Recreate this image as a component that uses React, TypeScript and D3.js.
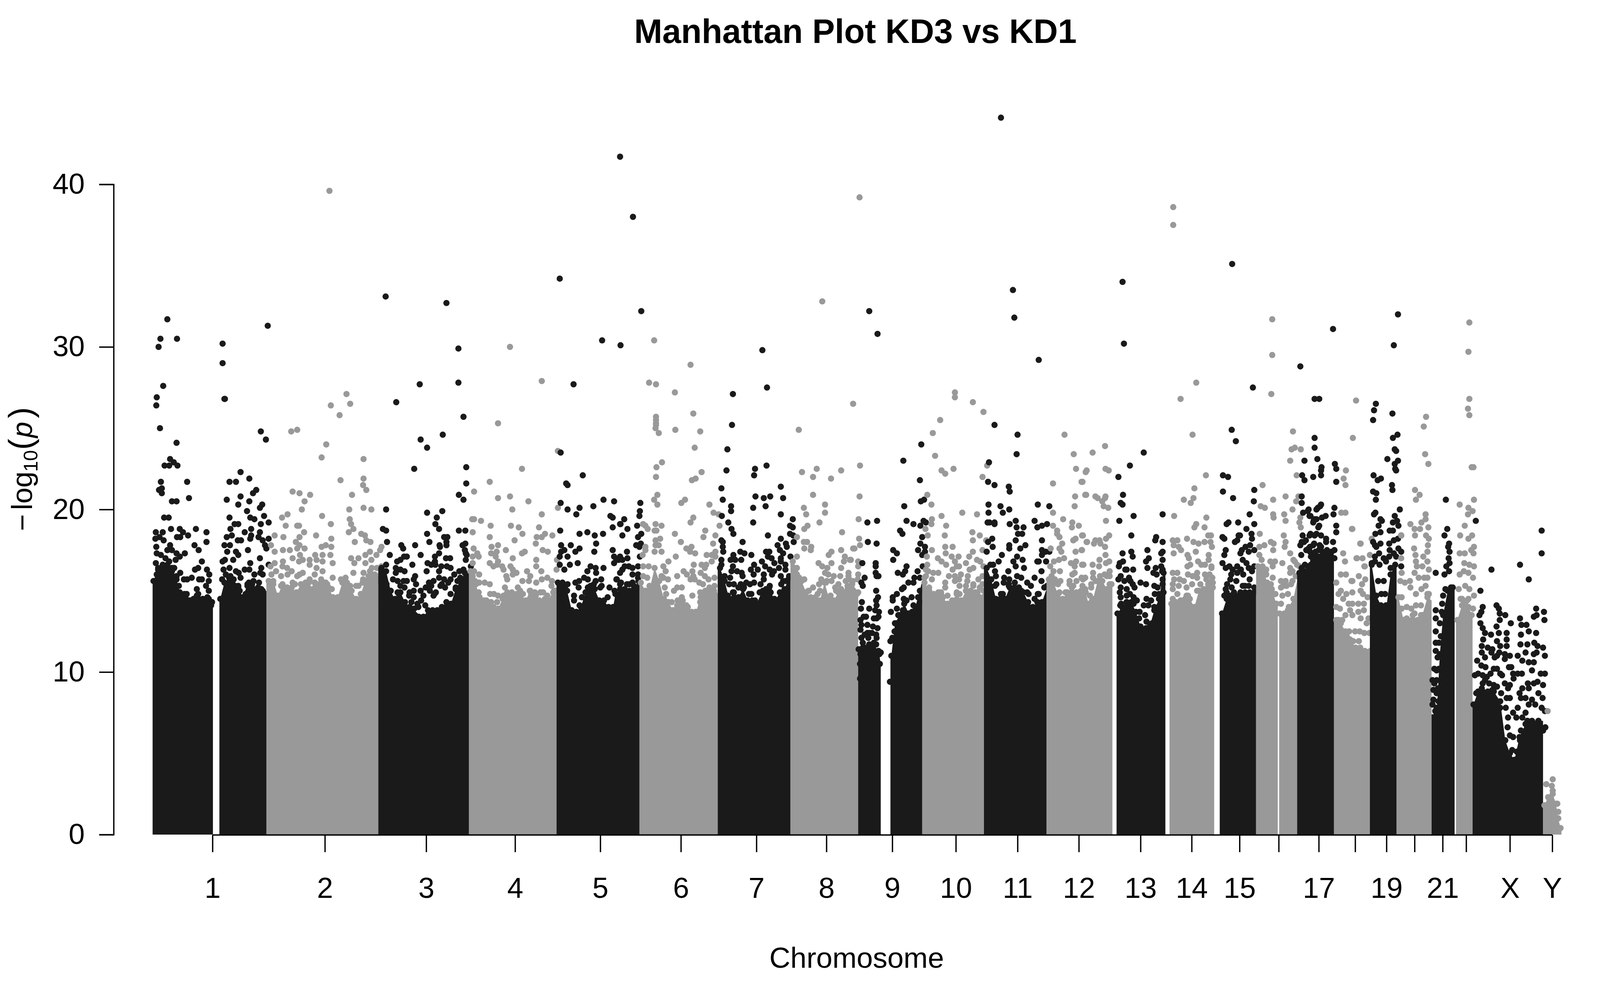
import React, { useEffect, useRef } from 'react';
import * as d3 from 'd3';

type Pair = [number, number];

const width = 5211;
const height = 2517;

// x values are cumulative genome position in Mb, y values are -log10(p)
const tickPositions = [130, 374, 594, 787, 972, 1147, 1311, 1463, 1606, 1744, 1878, 2011, 2145, 2256, 2360, 2445, 2532, 2611, 2679, 2740, 2801, 2852, 2947, 3039];
const tickLabels = ['1', '2', '3', '4', '5', '6', '7', '8', '9', '10', '11', '12', '13', '14', '15', '', '17', '', '19', '', '21', '', 'X', 'Y'];
const yTicks = [0, 10, 20, 30, 40];

// top of the solid body of points, per chromosome arm
const mass1a: Pair[] = [[0, 15.2], [2, 15.2], [12, 16.0], [22, 16.2], [32, 16.2], [42, 16.0], [52, 15.3], [59, 14.5], [69, 14.4], [79, 14.0], [89, 14.1], [99, 14.4], [109, 14.1], [119, 14.2], [129, 13.9], [131, 13.9]];
const mass1b: Pair[] = [[145, 14.1], [147, 14.1], [156, 15.1], [166, 15.4], [176, 15.3], [186, 14.8], [196, 14.2], [206, 15.0], [216, 15.0], [226, 14.7], [236, 14.7], [246, 14.4], [248, 14.4]];
const mass2: Pair[] = [[247, 15.2], [252, 15.2], [262, 15.2], [272, 14.3], [282, 15.0], [292, 14.8], [302, 14.8], [312, 14.5], [322, 15.0], [332, 15.1], [342, 14.7], [352, 15.1], [362, 14.8], [372, 15.1], [382, 14.8], [392, 14.2], [402, 14.2], [412, 15.1], [422, 15.1], [432, 14.6], [442, 14.1], [452, 14.4], [462, 15.2], [472, 15.8], [482, 15.6], [490, 15.7]];
const mass3: Pair[] = [[490, 16.0], [497, 16.0], [507, 15.8], [517, 14.6], [527, 14.0], [538, 14.5], [548, 13.9], [558, 13.6], [568, 13.5], [578, 13.0], [588, 13.0], [598, 13.4], [608, 13.4], [618, 13.4], [628, 13.6], [638, 13.9], [648, 13.8], [658, 14.7], [668, 15.2], [678, 15.7], [687, 15.8]];
const mass4: Pair[] = [[687, 15.8], [690, 15.8], [700, 15.2], [710, 14.2], [720, 14.0], [730, 13.8], [740, 13.6], [750, 13.5], [760, 14.1], [770, 14.5], [780, 14.5], [790, 14.4], [800, 14.4], [810, 14.0], [820, 14.6], [830, 14.5], [840, 14.0], [850, 13.8], [860, 14.0], [870, 14.5], [877, 14.7]];
const mass5: Pair[] = [[877, 15.1], [880, 15.1], [890, 15.1], [900, 14.6], [910, 13.4], [920, 13.3], [930, 13.6], [940, 14.5], [950, 14.6], [960, 14.7], [970, 14.0], [980, 14.0], [990, 13.6], [1000, 13.6], [1005, 14.4], [1015, 14.7], [1025, 14.7], [1035, 14.6], [1045, 14.7], [1055, 15.2], [1057, 15.2]];
const mass6: Pair[] = [[1057, 15.1], [1060, 15.1], [1070, 14.6], [1080, 14.8], [1090, 16.0], [1100, 15.2], [1110, 14.1], [1120, 13.9], [1130, 13.4], [1140, 14.0], [1150, 13.8], [1160, 13.4], [1170, 13.3], [1180, 13.3], [1190, 14.2], [1200, 14.6], [1210, 14.5], [1220, 14.4], [1227, 14.4]];
const mass7: Pair[] = [[1227, 16.0], [1232, 16.0], [1242, 15.2], [1252, 14.1], [1262, 14.5], [1272, 14.2], [1282, 14.7], [1292, 14.0], [1302, 14.0], [1312, 13.8], [1322, 14.5], [1332, 14.5], [1342, 14.5], [1352, 14.0], [1362, 14.5], [1372, 14.7], [1382, 15.4], [1385, 15.4]];
const mass8: Pair[] = [[1385, 16.4], [1390, 16.4], [1399, 16.0], [1409, 15.2], [1419, 14.5], [1429, 14.2], [1439, 14.2], [1449, 14.0], [1459, 15.1], [1469, 14.1], [1479, 14.0], [1489, 14.5], [1499, 14.5], [1509, 14.7], [1519, 14.7], [1529, 14.4], [1532, 14.4]];
const mass9a: Pair[] = [[1532, 11.0], [1533, 11.0], [1545, 11.1], [1556, 11.3], [1567, 11.3], [1578, 10.7], [1581, 10.0]];
const mass9b: Pair[] = [[1602, 10.6], [1604, 10.6], [1612, 12.6], [1622, 13.1], [1632, 13.8], [1642, 13.2], [1652, 13.2], [1662, 14.2], [1671, 15.2]];
const mass10: Pair[] = [[1671, 15.1], [1676, 15.1], [1686, 14.6], [1696, 14.4], [1706, 14.5], [1716, 14.2], [1726, 13.8], [1736, 14.0], [1746, 14.4], [1756, 14.0], [1766, 14.6], [1776, 14.6], [1786, 14.5], [1796, 14.2], [1805, 14.5]];
const mass11: Pair[] = [[1805, 16.0], [1811, 16.0], [1821, 15.3], [1831, 14.1], [1841, 14.1], [1851, 14.1], [1861, 14.8], [1871, 14.8], [1881, 14.8], [1891, 14.5], [1901, 13.9], [1911, 13.6], [1921, 13.9], [1931, 13.9], [1941, 14.7]];
const mass12: Pair[] = [[1941, 15.3], [1946, 15.3], [1956, 15.1], [1966, 14.4], [1976, 14.1], [1986, 14.5], [1996, 14.8], [2006, 14.5], [2016, 14.5], [2026, 14.5], [2032, 13.8], [2042, 14.1], [2052, 15.2], [2062, 15.2], [2072, 14.7], [2082, 15.0], [2084, 15.0]];
const mass13: Pair[] = [[2093, 13.2], [2095, 13.2], [2105, 13.6], [2115, 13.9], [2125, 13.9], [2135, 13.3], [2145, 12.4], [2155, 12.2], [2165, 12.4], [2175, 13.4], [2185, 14.1], [2195, 15.7], [2199, 15.8]];
const mass14: Pair[] = [[2208, 13.8], [2212, 13.8], [2222, 13.9], [2232, 14.0], [2242, 14.1], [2252, 14.1], [2262, 13.6], [2272, 14.6], [2282, 14.7], [2292, 14.8], [2302, 14.8], [2305, 14.8]];
const mass15: Pair[] = [[2317, 13.2], [2322, 13.2], [2332, 14.1], [2342, 14.2], [2352, 14.2], [2362, 14.5], [2372, 14.5], [2382, 14.5], [2392, 14.5], [2396, 14.5]];
const mass16a: Pair[] = [[2396, 16.1], [2400, 16.1], [2410, 16.1], [2420, 15.1], [2430, 14.7], [2440, 13.8], [2443, 13.8]];
const mass16b: Pair[] = [[2446, 13.2], [2447, 13.2], [2457, 13.2], [2467, 13.6], [2477, 14.1], [2485, 15.2]];
const mass17: Pair[] = [[2485, 15.7], [2490, 15.7], [2500, 15.8], [2510, 15.8], [2520, 16.4], [2530, 16.6], [2540, 17.0], [2550, 17.0], [2560, 17.0], [2565, 16.8]];
const mass18: Pair[] = [[2565, 12.8], [2570, 12.8], [2580, 12.6], [2590, 12.1], [2600, 11.6], [2612, 11.1], [2622, 11.1], [2632, 10.9], [2643, 11.1]];
const mass19: Pair[] = [[2643, 16.2], [2647, 16.2], [2657, 14.3], [2667, 13.7], [2678, 13.4], [2688, 15.6], [2698, 16.2], [2701, 16.2]];
const mass20: Pair[] = [[2701, 14.2], [2705, 14.2], [2716, 12.8], [2726, 12.8], [2736, 13.1], [2747, 12.8], [2757, 13.1], [2768, 14.2], [2777, 14.0]];
const mass21: Pair[] = [[2777, 7.0], [2788, 7.0], [2795, 10.7], [2802, 13.1], [2812, 14.6], [2823, 14.8], [2827, 14.8]];
const mass22: Pair[] = [[2830, 12.8], [2833, 12.8], [2843, 13.7], [2854, 14.0], [2864, 13.1], [2866, 13.1]];
const massX: Pair[] = [[2866, 7.6], [2868, 7.6], [2878, 8.4], [2888, 8.4], [2899, 8.4], [2912, 8.4], [2926, 7.8], [2937, 5.4], [2947, 4.6], [2957, 4.2], [2968, 5.6], [2981, 6.4], [2995, 6.6], [3009, 6.6], [3019, 6.6]];
const massY: Pair[] = [[3019, 1.4], [3022, 1.4], [3030, 1.9], [3040, 2.1], [3047, 1.5], [3052, 0.6], [3057, 0.0], [3059, 0.0]];

// individual points above the solid body
const points1: Pair[] = [[32, 31.7], [17, 30.5], [13, 30.0], [53, 30.5], [23, 27.6], [9, 26.9], [8, 26.4], [16, 25.0], [52, 24.1], [38, 23.1], [46, 22.9], [26, 22.7], [36, 22.7], [54, 22.7], [18, 21.7], [75, 21.7], [20, 21.3], [14, 21.2], [20, 21.0], [42, 20.5], [52, 20.5], [79, 20.7], [25, 19.5], [35, 19.5], [40, 18.8], [7, 18.6], [22, 18.6], [59, 18.8], [66, 18.6], [94, 18.8], [117, 18.6], [53, 18.3], [60, 18.3], [77, 18.4], [117, 18.0], [6, 18.2], [15, 18.3], [24, 18.1], [38, 17.8], [91, 17.8], [100, 17.5], [8, 17.7], [32, 17.5], [42, 17.5], [70, 17.3], [52, 17.3], [18, 17.2], [59, 17.1], [9, 17.3], [50, 16.9], [28, 17.0], [107, 16.8], [7, 16.7], [36, 16.8], [47, 16.4], [99, 16.4], [92, 16.3], [118, 16.3], [60, 16.1], [123, 16.0], [85, 15.8], [68, 15.7], [75, 15.7], [101, 15.7], [107, 15.7], [122, 15.6], [96, 15.1], [116, 15.3], [72, 14.7], [122, 15.0], [96, 14.7], [122, 14.5],
  [152, 30.2], [152, 29.0], [156, 26.8], [250, 31.3], [157, 26.8], [235, 24.8], [246, 24.3], [191, 22.3], [210, 21.9], [167, 21.7], [181, 21.7], [225, 21.2], [218, 21.0], [191, 20.8], [161, 20.6], [210, 20.5], [186, 20.3], [238, 20.3], [233, 20.1], [205, 19.9], [242, 19.6], [167, 19.5], [212, 19.5], [221, 19.4], [252, 19.2], [178, 19.1], [186, 19.1], [235, 19.1], [169, 18.8], [214, 18.8], [200, 18.6], [233, 18.6], [214, 18.4], [212, 18.2], [172, 18.4], [161, 18.3], [230, 18.3], [252, 18.2], [185, 18.1], [192, 18.1], [239, 18.1], [244, 17.8], [168, 17.8], [156, 17.8], [247, 17.6], [207, 17.5], [162, 17.4], [181, 17.4], [186, 17.2], [233, 17.0], [175, 16.9], [157, 16.9], [152, 16.8], [212, 16.7], [252, 16.6], [236, 16.4], [200, 16.3], [210, 16.3], [167, 16.4], [154, 16.3], [181, 16.2], [187, 16.1], [234, 16.1], [239, 16.0], [221, 16.0], [191, 15.8], [151, 15.7], [169, 15.9], [209, 15.5], [219, 15.6], [231, 15.5], [186, 15.3],
  [12, 16.3], [22, 16.5], [32, 16.5], [42, 16.2], [52, 15.9], [9, 16.0], [19, 16.2], [37, 16.0], [47, 15.6], [57, 15.3], [66, 14.7], [74, 14.8], [82, 14.4], [96, 14.4], [107, 14.3], [121, 14.5], [127, 14.1], [159, 16.0], [169, 15.6], [179, 15.3], [189, 15.0], [206, 15.3], [216, 15.2], [229, 15.2], [239, 15.0], [246, 14.8], [202, 14.8]];
const points2: Pair[] = [[384, 39.6], [421, 27.1], [387, 26.4], [429, 26.5], [406, 25.8], [301, 24.8], [314, 24.9], [377, 24.0], [367, 23.2], [458, 23.1], [408, 21.8], [458, 21.9], [457, 21.5], [464, 21.2], [304, 21.1], [319, 21.0], [342, 20.9], [433, 20.9], [330, 20.5], [324, 20.0], [427, 20.0], [458, 20.1], [475, 20.0], [293, 19.7], [281, 19.5], [368, 19.6], [428, 19.4], [289, 19.0], [314, 19.0], [318, 19.0], [387, 19.1], [431, 19.1], [329, 18.6], [436, 18.8], [426, 18.6], [265, 18.4], [284, 18.3], [319, 18.3], [355, 18.4], [453, 18.5], [461, 18.4], [388, 18.2], [439, 18.0], [464, 18.1], [473, 18.0], [257, 17.8], [311, 18.0], [319, 17.8], [376, 17.8], [367, 17.7], [388, 17.7], [497, 17.7], [265, 17.4], [283, 17.5], [298, 17.5], [330, 17.6], [314, 17.6], [472, 17.4], [494, 17.5], [320, 17.2], [353, 17.2], [369, 17.2], [386, 17.2], [462, 17.2], [486, 17.2], [304, 17.0], [326, 16.9], [341, 16.9], [356, 16.9], [369, 16.8], [431, 17.0], [447, 17.0], [318, 16.8], [391, 16.7], [462, 16.7], [475, 16.9], [283, 16.8], [265, 16.7], [341, 16.6], [438, 16.7], [256, 16.5], [282, 16.5], [292, 16.4], [356, 16.4], [487, 16.4], [497, 16.5], [268, 16.2], [302, 16.2], [369, 16.2], [436, 16.1], [458, 16.1], [476, 16.4], [326, 16.1], [319, 16.0], [352, 16.0], [258, 16.0], [279, 15.9], [293, 16.0], [314, 15.9], [391, 15.8], [409, 15.7], [419, 15.8], [341, 15.7], [366, 15.7], [457, 15.7], [352, 15.5], [376, 15.5], [447, 15.3], [389, 15.1], [354, 15.2], [304, 15.5], [336, 15.3],
  [262, 15.4], [279, 15.3], [289, 15.1], [309, 15.4], [322, 15.0], [339, 15.5], [356, 15.4], [366, 15.5], [379, 15.4], [399, 14.3], [416, 15.5], [429, 15.3], [442, 15.3], [456, 15.5], [469, 15.9], [486, 15.6], [496, 15.8]];
const points3: Pair[] = [[506, 33.1], [638, 32.7], [664, 29.9], [664, 27.8], [580, 27.7], [529, 26.6], [675, 25.7], [582, 24.3], [596, 23.8], [630, 24.6], [568, 22.5], [681, 22.6], [681, 21.6], [665, 20.9], [675, 20.6], [507, 20.0], [596, 19.8], [629, 19.9], [617, 19.5], [614, 19.1], [622, 18.8], [500, 18.8], [507, 18.7], [665, 18.7], [679, 18.7], [596, 18.5], [509, 18.0], [601, 18.0], [633, 18.3], [640, 18.3], [638, 18.0], [638, 17.8], [540, 17.8], [544, 17.6], [570, 17.8], [623, 17.8], [624, 17.7], [673, 17.8], [679, 17.9], [678, 17.5], [680, 17.3], [682, 17.2], [515, 17.2], [582, 17.2], [622, 17.3], [546, 17.1], [552, 17.1], [613, 17.1], [637, 17.0], [646, 17.0], [538, 16.9], [531, 16.8], [613, 16.8], [680, 16.9], [507, 16.6], [564, 16.6], [597, 16.7], [605, 16.6], [627, 16.5], [639, 16.5], [647, 16.4], [614, 16.6], [691, 16.5], [528, 16.4], [595, 16.2], [622, 16.2], [675, 16.3], [666, 16.2], [547, 16.2], [538, 16.3], [528, 16.1], [570, 15.9], [655, 16.0], [567, 15.7], [522, 15.7], [552, 15.6], [532, 15.6], [545, 15.6], [572, 15.4], [600, 15.5], [610, 15.6], [622, 15.8], [633, 15.7], [647, 15.7], [668, 15.8], [547, 15.2], [567, 15.0], [582, 15.0], [593, 15.2], [602, 15.0], [615, 14.9], [625, 15.3], [635, 15.2], [658, 15.2], [557, 14.7], [567, 14.6], [647, 14.8], [535, 14.8], [527, 14.5], [583, 14.4], [665, 14.6], [610, 14.7], [527, 14.1], [577, 14.0], [545, 14.2], [562, 14.3], [592, 14.1], [570, 13.5],
  [502, 15.9], [508, 15.4], [538, 15.3], [558, 14.9], [605, 15.3], [628, 15.4], [642, 15.5], [662, 15.6], [678, 15.6], [532, 14.9], [588, 14.7], [612, 14.8], [575, 14.2]];
const points4: Pair[] = [[776, 30.0], [845, 27.9], [750, 25.3], [802, 22.5], [732, 21.7], [698, 21.1], [750, 20.7], [776, 20.8], [816, 20.5], [781, 20.0], [845, 19.7], [694, 19.4], [698, 19.4], [713, 19.3], [734, 19.0], [778, 19.0], [795, 18.9], [839, 18.9], [695, 18.6], [803, 18.5], [732, 18.3], [834, 18.3], [845, 18.3], [852, 18.5], [868, 18.4], [786, 18.1], [750, 17.8], [736, 17.7], [832, 17.9], [697, 17.6], [767, 17.5], [747, 17.4], [735, 17.3], [847, 17.5], [858, 17.4], [808, 17.4], [802, 17.3], [705, 17.3], [708, 17.1], [695, 17.1], [782, 17.0], [745, 17.1], [833, 16.9], [695, 16.7], [732, 16.7], [740, 16.5], [750, 16.8], [748, 16.6], [759, 16.5], [762, 16.3], [777, 16.5], [782, 16.3], [790, 16.1], [782, 16.0], [833, 16.5], [844, 16.2], [813, 16.2], [820, 15.9], [877, 16.3], [698, 16.2], [709, 16.0], [768, 15.9], [770, 15.7], [803, 15.6], [817, 15.6], [833, 15.5], [845, 15.7], [857, 15.8], [867, 15.6], [866, 15.3], [709, 15.5], [721, 15.5], [732, 15.4], [765, 15.2], [793, 15.2], [798, 15.0], [804, 14.8], [819, 15.0], [875, 15.0], [708, 14.9], [733, 14.8], [741, 14.8], [750, 14.7], [748, 14.3], [762, 14.7], [842, 14.9], [848, 14.9], [857, 14.7], [852, 14.5], [870, 14.6], [880, 23.6], [880, 20.1], [878, 16.9],
  [695, 15.9], [702, 15.4], [725, 14.4], [735, 14.3], [772, 14.6], [785, 14.7], [795, 14.6], [822, 14.8], [832, 14.7], [872, 15.0], [862, 14.4]];
const points5: Pair[] = [[1015, 41.7], [1043, 38.0], [884, 34.2], [1061, 32.2], [976, 30.4], [1016, 30.1], [914, 27.7], [886, 23.5], [934, 22.1], [898, 21.6], [901, 21.5], [886, 20.4], [901, 20.0], [927, 20.1], [920, 19.7], [957, 20.2], [979, 20.6], [1002, 20.5], [994, 19.6], [999, 19.5], [999, 18.9], [1016, 19.1], [885, 18.7], [927, 18.5], [944, 18.6], [960, 18.4], [978, 18.5], [963, 17.9], [887, 17.8], [908, 17.8], [927, 17.6], [918, 17.4], [894, 17.5], [887, 17.4], [959, 17.4], [999, 17.5], [901, 17.1], [884, 17.1], [1002, 17.1], [1012, 16.9], [884, 16.6], [894, 16.3], [906, 16.6], [923, 16.7], [1002, 16.7], [979, 16.4], [951, 16.5], [962, 16.4], [944, 16.2], [963, 16.1], [937, 15.8], [974, 15.7], [1008, 15.7], [901, 15.4], [918, 15.5], [926, 15.6], [945, 15.7], [962, 15.6], [925, 15.2], [951, 15.3], [975, 15.3], [992, 15.2], [1003, 15.0], [915, 14.4], [927, 14.1], [975, 13.5], [978, 13.2], [985, 12.7],
  [1024, 19.4], [1015, 19.1], [1031, 18.8], [1020, 18.4], [1059, 20.4], [1058, 19.9], [1057, 19.6], [1052, 19.0], [1061, 18.5], [1054, 18.3], [1060, 17.9], [1050, 17.8], [1057, 17.7], [1030, 17.4], [1031, 17.0], [1058, 17.1], [1015, 17.1], [1007, 16.9], [1020, 16.9], [1054, 16.5], [1025, 16.5], [1034, 16.5], [1042, 16.4], [1020, 16.3], [1015, 16.1], [1042, 16.0], [1054, 15.8], [1007, 15.7], [1017, 15.5], [1035, 15.4], [1042, 15.5], [1054, 15.2], [1020, 15.0],
  [895, 15.2], [915, 14.7], [932, 14.6], [945, 15.2], [958, 15.4], [972, 15.2], [988, 14.6], [1005, 14.8], [1015, 15.4], [1030, 15.4], [1045, 15.3], [1054, 16.0]];
const points6: Pair[] = [[1089, 30.4], [1168, 28.9], [1078, 27.8], [1093, 27.7], [1134, 27.2], [1174, 25.9], [1093, 25.7], [1093, 25.5], [1093, 25.3], [1093, 25.2], [1092, 25.0], [1099, 24.7], [1135, 24.9], [1189, 24.8], [1177, 23.8], [1106, 22.9], [1094, 22.6], [1192, 22.3], [1093, 22.0], [1179, 21.9], [1171, 21.8], [1096, 20.9], [1089, 20.6], [1096, 20.3], [1156, 20.6], [1148, 20.4], [1209, 20.3], [1218, 19.8], [1229, 19.7], [1174, 19.5], [1168, 19.2], [1231, 19.0], [1065, 19.1], [1070, 19.0], [1075, 18.8], [1092, 19.1], [1105, 19.0], [1090, 18.7], [1094, 18.7], [1200, 18.7], [1134, 18.5], [1222, 18.4], [1196, 18.3], [1102, 18.2], [1092, 18.1], [1147, 18.0], [1217, 17.9], [1070, 17.7], [1070, 17.5], [1092, 17.8], [1099, 17.8], [1159, 17.6], [1170, 17.7], [1167, 17.4], [1178, 17.3], [1222, 17.4], [1214, 17.2], [1203, 17.2], [1064, 17.2], [1105, 17.4], [1090, 17.4], [1136, 17.1], [1222, 17.1], [1120, 16.8], [1214, 16.8], [1202, 16.6], [1192, 16.6], [1175, 16.6], [1065, 16.5], [1077, 16.5], [1109, 16.5], [1114, 16.2], [1199, 16.4], [1153, 16.2], [1160, 16.0], [1172, 16.2], [1174, 15.9], [1190, 16.1], [1199, 15.9], [1139, 15.9], [1220, 15.8], [1119, 15.7], [1109, 15.8], [1074, 15.8], [1168, 15.7], [1177, 15.7], [1207, 15.7], [1187, 15.5], [1195, 15.4], [1220, 15.3], [1139, 15.2], [1132, 15.0], [1149, 15.2], [1115, 14.8], [1172, 14.7], [1189, 14.9], [1149, 14.6], [1151, 14.4], [1127, 14.3], [1117, 14.3], [1139, 14.1], [1162, 14.0], [1179, 13.7],
  [1065, 15.9], [1079, 15.3], [1105, 15.9], [1112, 15.2], [1132, 13.8], [1145, 14.3], [1159, 14.1], [1199, 14.9], [1209, 15.2], [1219, 15.0], [1189, 14.3]];
const points7: Pair[] = [[1324, 29.8], [1334, 27.5], [1260, 27.1], [1258, 25.2], [1248, 23.7], [1246, 22.4], [1308, 22.5], [1306, 22.1], [1333, 22.7], [1235, 21.3], [1364, 21.4], [1238, 20.6], [1309, 20.8], [1327, 20.7], [1341, 20.8], [1369, 20.7], [1256, 20.2], [1256, 19.9], [1304, 20.1], [1331, 20.2], [1236, 19.6], [1364, 19.7], [1390, 19.4], [1250, 19.2], [1304, 19.2], [1257, 18.8], [1261, 18.5], [1384, 19.0], [1390, 18.9], [1384, 18.5], [1391, 18.4], [1336, 18.4], [1364, 18.2], [1235, 18.1], [1238, 18.0], [1281, 18.0], [1357, 17.8], [1375, 17.9], [1377, 17.7], [1392, 18.0], [1239, 17.4], [1238, 17.7], [1276, 17.4], [1285, 17.3], [1332, 17.4], [1339, 17.4], [1362, 17.5], [1369, 17.3], [1300, 17.2], [1235, 16.9], [1261, 17.2], [1255, 16.9], [1265, 16.9], [1278, 16.9], [1336, 17.1], [1344, 17.0], [1364, 17.0], [1364, 16.8], [1385, 17.1], [1323, 16.8], [1330, 16.5], [1350, 16.7], [1306, 16.6], [1260, 16.5], [1374, 16.6], [1374, 16.3], [1299, 16.3], [1314, 16.3], [1340, 16.3], [1349, 16.2], [1360, 16.4], [1257, 16.2], [1269, 16.2], [1279, 16.1], [1305, 16.0], [1327, 16.0], [1345, 16.0], [1364, 15.9], [1254, 15.8], [1281, 15.9], [1289, 15.5], [1297, 15.4], [1306, 15.5], [1320, 15.4], [1327, 15.7], [1277, 15.4], [1252, 15.4], [1369, 15.6], [1340, 15.3], [1332, 15.1], [1284, 15.2], [1318, 14.9], [1260, 14.9], [1300, 14.8], [1308, 14.4], [1249, 14.7], [1350, 14.5],
  [1235, 16.6], [1242, 15.9], [1262, 15.4], [1272, 15.2], [1295, 14.8], [1325, 15.0], [1339, 15.2], [1365, 15.4], [1375, 15.6], [1382, 15.9]];
const points8: Pair[] = [[1454, 32.8], [1535, 39.2], [1521, 26.5], [1403, 24.9], [1410, 22.3], [1442, 22.5], [1434, 22.0], [1473, 21.9], [1495, 22.4], [1434, 20.9], [1414, 20.1], [1419, 19.7], [1460, 20.3], [1460, 19.8], [1448, 19.2], [1422, 19.0], [1415, 18.8], [1497, 18.6], [1399, 18.3], [1414, 18.0], [1421, 18.0], [1415, 17.6], [1430, 17.7], [1429, 17.5], [1524, 17.6], [1495, 17.5], [1468, 17.2], [1474, 17.4], [1399, 17.1], [1503, 17.1], [1446, 16.7], [1516, 16.9], [1501, 16.8], [1495, 16.4], [1474, 16.7], [1454, 16.5], [1465, 16.4], [1460, 16.1], [1467, 16.0], [1511, 16.1], [1493, 15.9], [1479, 15.9], [1452, 15.7], [1415, 15.7], [1404, 15.8], [1512, 15.7], [1520, 15.6], [1474, 15.6], [1464, 15.6], [1489, 15.4], [1505, 15.6], [1447, 15.4], [1434, 15.2], [1424, 15.0], [1495, 15.1], [1484, 15.0], [1517, 15.2], [1444, 14.8], [1472, 14.7],
  [1536, 22.7], [1535, 20.8], [1533, 19.4], [1534, 18.2], [1536, 17.8], [1521, 17.6], [1514, 16.9], [1532, 16.8], [1532, 16.5], [1511, 15.9], [1532, 16.0], [1531, 15.7], [1519, 15.5], [1522, 15.0], [1512, 14.8], [1532, 14.9], [1526, 14.7],
  [1399, 16.0], [1409, 15.6], [1425, 15.0], [1449, 15.0], [1462, 15.5], [1482, 15.2], [1509, 15.3], [1519, 15.4]];
const points9: Pair[] = [[1556, 32.2], [1574, 30.8], [1552, 19.2], [1573, 19.3], [1553, 18.0], [1572, 17.9], [1541, 16.7], [1570, 16.7], [1570, 16.5], [1570, 16.1], [1572, 15.9], [1576, 15.9], [1546, 15.8], [1539, 15.5], [1542, 15.3], [1571, 15.0], [1575, 14.6], [1571, 14.4], [1540, 14.3], [1538, 13.9], [1572, 14.1], [1569, 13.8], [1577, 13.7], [1556, 13.9], [1544, 13.4], [1537, 13.2], [1572, 13.3], [1552, 12.9], [1564, 12.8], [1574, 12.7], [1537, 12.6], [1552, 12.4], [1562, 12.4], [1539, 12.1], [1542, 11.8], [1554, 12.1], [1571, 12.3], [1572, 12.1], [1571, 11.7], [1559, 11.6], [1581, 11.2], [1537, 11.1], [1551, 11.5], [1576, 11.3], [1536, 10.5], [1579, 10.5], [1536, 9.6],
  [1669, 24.0], [1630, 23.0], [1666, 21.8], [1675, 20.6], [1668, 20.5], [1632, 20.2], [1637, 19.3], [1652, 19.1], [1667, 19.0], [1674, 19.3], [1679, 19.2], [1623, 18.7], [1628, 18.5], [1671, 18.3], [1667, 17.9], [1677, 17.7], [1662, 17.5], [1608, 17.5], [1616, 17.3], [1677, 17.4], [1671, 17.2], [1608, 16.9], [1637, 16.5], [1634, 16.2], [1672, 16.5], [1618, 16.1], [1629, 16.0], [1661, 16.2], [1654, 15.8], [1666, 15.8], [1641, 15.5], [1652, 15.5], [1631, 15.2], [1627, 15.1], [1666, 15.0], [1616, 14.8], [1607, 14.6], [1607, 14.4], [1648, 14.6], [1631, 14.5], [1637, 14.4], [1616, 13.9], [1603, 13.7], [1652, 14.1], [1649, 13.7], [1619, 13.5], [1654, 13.2], [1641, 13.2], [1612, 13.0], [1611, 12.5], [1606, 12.1], [1602, 11.9], [1647, 12.7], [1601, 9.4],
  [1546, 12.3], [1556, 12.4], [1542, 11.5], [1566, 11.8], [1549, 13.4], [1566, 13.3], [1576, 13.4], [1539, 12.9], [1616, 13.0], [1629, 13.8], [1642, 13.6], [1656, 13.8], [1666, 14.3]];
const points10: Pair[] = [[1742, 27.2], [1742, 26.9], [1781, 26.6], [1804, 26.0], [1710, 25.5], [1694, 24.7], [1699, 23.3], [1713, 22.4], [1721, 22.2], [1739, 22.5], [1802, 22.0], [1812, 22.7], [1682, 20.9], [1691, 20.3], [1758, 19.8], [1790, 19.7], [1713, 19.6], [1692, 19.4], [1691, 19.1], [1723, 19.0], [1678, 18.8], [1683, 18.4], [1780, 18.6], [1720, 18.4], [1796, 18.4], [1781, 18.1], [1810, 18.1], [1721, 17.7], [1722, 17.3], [1737, 17.7], [1692, 17.5], [1781, 17.4], [1802, 17.5], [1735, 17.1], [1750, 17.1], [1681, 17.1], [1682, 16.6], [1705, 17.0], [1713, 16.8], [1723, 16.6], [1773, 17.1], [1766, 16.7], [1790, 16.9], [1797, 16.8], [1742, 16.8], [1737, 16.3], [1746, 16.5], [1751, 16.5], [1782, 16.4], [1774, 16.3], [1804, 16.5], [1679, 16.3], [1684, 16.2], [1695, 16.1], [1706, 16.1], [1755, 16.0], [1729, 15.9], [1679, 15.9], [1742, 15.9], [1751, 15.7], [1770, 15.9], [1793, 15.7], [1802, 15.9], [1692, 15.7], [1721, 15.5], [1742, 15.6], [1769, 15.6], [1782, 15.4], [1752, 15.3], [1802, 15.4], [1721, 15.2], [1712, 14.9], [1766, 15.0], [1791, 14.9], [1752, 14.8], [1686, 15.0], [1726, 13.8],
  [1676, 15.8], [1686, 15.2], [1712, 14.8], [1726, 14.7], [1746, 14.9], [1766, 15.3], [1782, 15.3], [1796, 15.2], [1804, 15.0]];
const points11: Pair[] = [[1842, 44.1], [1868, 33.5], [1871, 31.8], [1924, 29.2], [1828, 25.2], [1878, 24.6], [1876, 23.4], [1816, 22.9], [1814, 21.7], [1828, 21.5], [1859, 21.4], [1861, 21.1], [1815, 20.3], [1815, 19.8], [1841, 20.2], [1846, 19.8], [1860, 20.0], [1922, 20.3], [1947, 20.2], [1813, 19.2], [1817, 19.2], [1828, 19.2], [1828, 19.1], [1861, 19.1], [1874, 19.3], [1915, 19.3], [1921, 18.9], [1931, 19.0], [1942, 19.1], [1876, 18.9], [1891, 18.9], [1879, 18.5], [1888, 18.5], [1823, 18.2], [1931, 18.1], [1874, 18.1], [1860, 17.8], [1860, 17.6], [1895, 17.8], [1824, 17.7], [1814, 18.0], [1931, 17.5], [1939, 17.4], [1947, 17.4], [1884, 17.6], [1844, 17.2], [1877, 17.1], [1931, 17.2], [1837, 16.8], [1889, 16.9], [1921, 16.8], [1924, 16.8], [1940, 16.8], [1869, 16.8], [1874, 16.5], [1825, 16.6], [1892, 16.4], [1930, 16.2], [1858, 16.2], [1829, 16.2], [1877, 15.9], [1915, 15.8], [1886, 15.8], [1849, 15.8], [1848, 15.5], [1860, 15.7], [1831, 15.9], [1930, 15.6], [1899, 15.5], [1907, 15.3], [1832, 15.4], [1859, 15.3], [1942, 15.3], [1947, 14.9], [1924, 14.8], [1899, 14.9], [1846, 14.8], [1915, 14.5],
  [1811, 17.4], [1819, 16.6], [1829, 15.3], [1842, 14.8], [1859, 15.4], [1872, 15.5], [1886, 15.0], [1902, 14.8], [1922, 14.8], [1936, 15.2]];
const points12: Pair[] = [[1980, 24.6], [2000, 23.4], [2005, 22.5], [2028, 22.4], [1955, 21.6], [2019, 21.7], [2003, 20.8], [2027, 20.9], [2002, 20.2], [1955, 19.8], [1977, 19.4], [1997, 19.2], [1996, 18.9], [2011, 19.0], [1955, 19.0], [1964, 18.7], [1964, 18.5], [1969, 18.3], [2020, 18.4], [1999, 18.1], [2004, 18.2], [2029, 18.0], [1975, 17.9], [1950, 17.6], [1969, 17.6], [1973, 17.4], [2004, 17.4], [2018, 17.5], [1979, 17.0], [1957, 16.8], [1968, 16.9], [1994, 16.7], [2005, 16.8], [1949, 16.5], [2021, 16.6], [2002, 16.5], [1956, 16.2], [1970, 16.2], [1997, 16.0], [2002, 16.1], [1959, 15.7], [1971, 15.6], [1991, 15.6], [2006, 15.6], [2017, 15.8], [2025, 15.8], [1991, 15.4], [1956, 15.4], [1969, 14.9], [2016, 15.0],
  [2041, 23.5], [2068, 23.9], [2026, 22.3], [2069, 22.5], [2076, 22.4], [2017, 21.7], [2025, 20.9], [2047, 20.8], [2052, 20.7], [2069, 20.8], [2068, 20.7], [2062, 20.5], [2065, 20.2], [2075, 20.1], [2070, 19.3], [2077, 18.4], [2070, 18.2], [2018, 18.4], [2028, 18.0], [2047, 18.1], [2056, 18.1], [2044, 17.9], [2058, 17.9], [2068, 17.7], [2017, 17.5], [2069, 17.2], [2056, 16.9], [2077, 16.8], [2070, 16.7], [2018, 16.6], [2041, 16.6], [2055, 16.5], [2042, 16.1], [2078, 16.2], [2078, 15.9], [2067, 16.0], [2020, 15.7], [2042, 15.8], [2057, 15.9], [2038, 15.4], [2038, 15.2], [2078, 15.4], [2025, 15.1], [2035, 14.7], [2040, 14.4], [2018, 14.6], [2022, 14.1], [2035, 13.7],
  [1952, 15.9], [1966, 15.4], [1982, 14.9], [1999, 15.3], [2019, 15.3], [2048, 15.6], [2058, 15.5], [2072, 15.9]];
const points13: Pair[] = [[2106, 34.0], [2109, 30.2], [2152, 23.5], [2122, 22.7], [2097, 22.0], [2107, 20.9], [2102, 20.4], [2106, 20.3], [2130, 19.6], [2193, 19.7], [2099, 19.3], [2125, 18.4], [2179, 18.3], [2177, 18.1], [2193, 18.0], [2160, 17.5], [2193, 17.4], [2190, 17.3], [2106, 17.3], [2125, 17.4], [2128, 17.1], [2193, 16.9], [2163, 17.0], [2157, 16.8], [2107, 16.8], [2100, 16.7], [2098, 16.5], [2190, 16.5], [2129, 16.3], [2115, 16.3], [2112, 16.3], [2160, 16.4], [2178, 16.4], [2173, 16.1], [2180, 16.0], [2192, 16.2], [2102, 15.9], [2097, 15.7], [2120, 15.8], [2123, 15.6], [2128, 15.4], [2132, 15.2], [2145, 15.5], [2157, 15.4], [2110, 15.6], [2193, 15.7], [2193, 15.4], [2175, 15.3], [2182, 15.2], [2102, 15.2], [2100, 14.9], [2115, 15.1], [2122, 14.8], [2102, 14.6], [2176, 14.8], [2101, 14.1], [2130, 14.6], [2137, 14.4], [2158, 14.5], [2168, 14.4], [2115, 14.3], [2152, 14.1], [2162, 14.1], [2143, 13.7], [2158, 13.1], [2157, 12.7], [2142, 13.3], [2160, 12.3], [2170, 13.0], [2172, 12.4],
  [2103, 14.2], [2115, 14.7], [2130, 14.2], [2185, 14.8], [2193, 16.3], [2195, 14.9], [2175, 14.0], [2155, 13.5]];
const points14: Pair[] = [[2216, 38.6], [2216, 37.5], [2266, 27.8], [2232, 26.8], [2258, 24.6], [2287, 22.1], [2262, 21.3], [2260, 20.7], [2239, 20.6], [2254, 20.4], [2218, 19.6], [2288, 19.5], [2266, 19.1], [2262, 18.9], [2284, 18.9], [2246, 18.2], [2215, 18.1], [2225, 18.1], [2260, 18.0], [2271, 17.9], [2284, 18.0], [2292, 18.4], [2298, 18.4], [2297, 18.0], [2300, 17.7], [2217, 17.8], [2217, 17.3], [2228, 17.7], [2233, 17.5], [2265, 17.4], [2247, 17.2], [2250, 17.0], [2293, 17.2], [2293, 16.9], [2270, 16.8], [2277, 16.6], [2285, 16.6], [2253, 16.6], [2247, 16.5], [2299, 16.5], [2299, 16.4], [2215, 16.1], [2225, 16.1], [2248, 16.0], [2258, 15.9], [2268, 16.1], [2285, 16.0], [2295, 16.0], [2301, 15.8], [2218, 15.7], [2230, 15.7], [2268, 15.8], [2215, 15.4], [2228, 15.3], [2239, 15.6], [2257, 15.4], [2288, 15.7], [2297, 15.5], [2245, 15.2], [2215, 15.1], [2225, 14.8], [2215, 14.5], [2245, 14.7],
  [2215, 14.1], [2232, 14.4], [2248, 14.7], [2275, 15.4], [2292, 15.4], [2302, 15.5], [2268, 15.0]];
const points15: Pair[] = [[2344, 35.1], [2389, 27.5], [2343, 24.9], [2352, 24.2], [2324, 22.1], [2335, 22.0], [2324, 21.1], [2346, 20.7], [2392, 21.2], [2391, 20.5], [2382, 19.7], [2392, 19.1], [2332, 19.1], [2336, 19.2], [2357, 19.2], [2375, 18.8], [2386, 18.5], [2387, 18.2], [2323, 18.3], [2327, 18.2], [2358, 18.4], [2361, 18.4], [2355, 18.1], [2350, 18.0], [2373, 17.7], [2383, 17.8], [2365, 17.5], [2362, 17.3], [2380, 17.4], [2392, 17.5], [2330, 17.5], [2327, 17.2], [2367, 16.9], [2375, 16.7], [2323, 16.7], [2330, 16.4], [2338, 16.5], [2345, 16.3], [2355, 16.5], [2363, 16.3], [2380, 16.4], [2392, 16.5], [2387, 16.2], [2342, 16.0], [2355, 16.1], [2368, 16.0], [2382, 15.7], [2340, 15.7], [2353, 15.6], [2333, 15.4], [2330, 15.1], [2343, 15.2], [2367, 15.3], [2380, 15.3], [2327, 14.7], [2340, 14.7], [2352, 14.7], [2385, 14.7], [2368, 14.8],
  [2332, 14.9], [2348, 14.9], [2372, 15.3], [2392, 15.2], [2378, 14.8]];
const points16: Pair[] = [[2431, 31.7], [2431, 29.5], [2429, 27.1], [2476, 24.8], [2473, 23.7], [2480, 23.8], [2493, 23.7], [2470, 23.0], [2484, 22.1], [2410, 21.5], [2433, 20.6], [2460, 20.8], [2406, 20.2], [2415, 20.1], [2483, 20.5], [2488, 20.8], [2475, 20.0], [2433, 19.7], [2434, 19.5], [2457, 19.7], [2460, 19.3], [2492, 19.5], [2490, 19.2], [2493, 18.9], [2404, 18.5], [2456, 18.4], [2428, 18.0], [2434, 17.9], [2414, 17.8], [2460, 18.0], [2458, 17.7], [2433, 17.5], [2470, 17.3], [2477, 16.9], [2480, 16.8], [2403, 17.7], [2453, 16.7], [2437, 16.8], [2427, 16.8], [2470, 16.4], [2475, 16.2], [2470, 16.1], [2490, 16.5], [2418, 16.3], [2432, 16.5], [2450, 15.6], [2460, 15.6], [2475, 15.6], [2487, 15.9], [2450, 15.2], [2462, 15.3], [2453, 14.7], [2465, 14.8], [2450, 14.2], [2435, 14.8], [2420, 15.4], [2428, 15.4], [2415, 14.8], [2465, 13.8],
  [2403, 17.2], [2408, 16.9], [2418, 16.0], [2432, 15.8], [2438, 14.8], [2455, 15.3], [2472, 15.4], [2482, 15.9], [2485, 16.6]];
const points17: Pair[] = [[2492, 28.8], [2563, 31.1], [2523, 26.8], [2533, 26.8], [2523, 24.4], [2523, 23.8], [2501, 23.0], [2529, 23.1], [2538, 22.6], [2537, 22.4], [2537, 22.1], [2567, 22.8], [2570, 22.5], [2570, 21.7], [2496, 22.1], [2501, 21.8], [2520, 22.0], [2495, 20.8], [2495, 20.4], [2498, 19.8], [2510, 20.0], [2514, 19.6], [2530, 20.1], [2537, 20.3], [2527, 19.4], [2521, 19.3], [2533, 19.0], [2514, 18.5], [2527, 18.5], [2497, 18.4], [2504, 18.1], [2495, 18.0], [2492, 17.8], [2522, 17.9], [2534, 17.8], [2505, 17.5], [2513, 17.7], [2513, 17.4], [2494, 17.2], [2523, 17.2], [2532, 17.1], [2520, 16.9], [2508, 16.5], [2515, 16.6], [2500, 16.1], [2493, 16.0],
  [2535, 20.2], [2527, 20.0], [2508, 19.9], [2512, 19.6], [2547, 19.6], [2539, 19.5], [2566, 20.1], [2564, 19.7], [2523, 19.4], [2520, 19.2], [2570, 19.0], [2570, 18.6], [2531, 18.9], [2537, 18.4], [2523, 18.4], [2512, 18.4], [2548, 18.2], [2548, 18.0], [2563, 18.0], [2520, 17.8], [2537, 17.7], [2550, 17.5], [2566, 17.5], [2500, 18.0], [2510, 17.6], [2523, 17.2], [2535, 17.0], [2554, 16.8], [2566, 17.0],
  [2495, 16.4], [2502, 16.6], [2515, 17.1], [2525, 17.4], [2532, 17.5]];
const points18: Pair[] = [[2613, 26.7], [2606, 24.4], [2591, 22.4], [2586, 21.9], [2590, 21.5], [2590, 19.8], [2581, 19.8], [2604, 18.8], [2585, 17.3], [2589, 16.8], [2622, 17.9], [2631, 16.5], [2614, 17.0], [2591, 16.0], [2603, 15.6], [2580, 16.0], [2605, 18.8], [2623, 17.9], [2615, 17.0], [2627, 17.0], [2632, 16.5], [2643, 17.2], [2647, 18.2], [2619, 15.9], [2605, 15.6], [2605, 14.9], [2633, 15.7], [2626, 15.4], [2623, 15.0], [2628, 14.8], [2638, 14.6], [2618, 14.2], [2630, 14.2], [2605, 14.2], [2605, 13.5], [2618, 13.7], [2630, 13.8], [2623, 13.3], [2636, 13.0], [2611, 12.5], [2621, 12.5], [2631, 12.4], [2607, 11.9], [2619, 11.9], [2616, 11.1], [2604, 11.0], [2631, 11.2], [2640, 13.3], [2642, 12.4], [2636, 10.6], [2612, 10.2], [2570, 15.5], [2575, 14.8], [2580, 15.0], [2585, 14.5], [2592, 14.8], [2597, 14.2], [2600, 13.8], [2578, 13.9], [2590, 13.5], [2570, 14.0], [2583, 13.2], [2598, 12.5], [2575, 13.2], [2593, 12.2]];
const points19: Pair[] = [[2704, 32.0], [2695, 30.1], [2656, 26.5], [2652, 26.1], [2650, 25.5], [2692, 25.9], [2703, 24.6], [2693, 24.4], [2697, 23.7], [2700, 23.6], [2681, 23.1], [2704, 23.0], [2697, 22.8], [2698, 22.5], [2700, 22.4], [2651, 22.1], [2660, 21.8], [2667, 21.9], [2691, 21.5], [2692, 21.2], [2650, 21.1], [2657, 21.0], [2656, 20.6], [2708, 20.0], [2655, 19.8], [2652, 19.7], [2666, 19.4], [2669, 19.3], [2697, 19.6], [2693, 19.2], [2702, 19.3], [2705, 19.0], [2662, 19.0], [2655, 18.5], [2666, 18.6], [2686, 18.7], [2693, 18.7], [2650, 18.0], [2654, 17.8], [2666, 17.9], [2685, 17.9], [2695, 18.1], [2704, 18.2], [2711, 18.4], [2657, 17.7], [2663, 17.3], [2686, 17.5], [2705, 17.6], [2711, 17.4], [2654, 17.1], [2673, 17.0], [2685, 17.1], [2664, 16.6], [2654, 16.8], [2711, 16.5], [2678, 16.8], [2673, 15.6], [2676, 14.8], [2678, 14.1],
  [2647, 16.7], [2661, 15.6], [2668, 14.8], [2674, 13.9], [2688, 16.4], [2695, 17.3], [2700, 17.1]];
const points20: Pair[] = [[2765, 25.7], [2760, 25.1], [2763, 23.4], [2770, 22.8], [2741, 21.2], [2751, 20.9], [2743, 20.6], [2764, 19.7], [2764, 19.4], [2731, 19.1], [2740, 18.8], [2752, 18.8], [2755, 19.2], [2770, 18.9], [2741, 18.4], [2765, 18.4], [2771, 18.2], [2711, 18.4], [2739, 17.6], [2769, 17.8], [2768, 17.4], [2759, 17.1], [2711, 17.0], [2742, 17.2], [2743, 16.8], [2745, 16.5], [2757, 16.5], [2768, 16.8], [2771, 16.3], [2712, 16.1], [2740, 16.1], [2749, 15.8], [2719, 15.5], [2730, 15.6], [2731, 15.2], [2709, 15.6], [2761, 15.8], [2768, 15.8], [2743, 14.8], [2755, 15.1], [2771, 14.8], [2764, 15.3], [2712, 14.6], [2723, 14.0], [2733, 13.9], [2743, 14.1], [2754, 14.1],
  [2712, 13.9], [2723, 13.3], [2740, 13.6], [2754, 13.5], [2768, 14.8]];
const points21: Pair[] = [[2786, 16.1], [2808, 20.6], [2811, 18.8], [2805, 18.4], [2815, 17.9], [2813, 17.7], [2816, 17.4], [2814, 17.0], [2816, 16.7], [2809, 16.5], [2815, 16.2], [2805, 16.0], [2807, 15.1], [2819, 15.2], [2802, 14.7], [2800, 14.2], [2799, 13.7], [2786, 13.8], [2786, 13.3], [2786, 12.5], [2786, 11.8], [2786, 11.3], [2790, 10.9], [2783, 10.2], [2788, 10.1], [2781, 8.9], [2781, 8.3], [2788, 9.5], [2788, 8.7], [2788, 7.8], [2793, 11.8], [2793, 10.2],
  [2779, 8.0], [2783, 9.3], [2779, 9.5], [2791, 9.0], [2785, 7.6], [2792, 8.2], [2797, 12.2], [2795, 13.0]];
const points22: Pair[] = [[2859, 31.5], [2857, 29.7], [2859, 26.8], [2856, 26.2], [2859, 25.8], [2864, 22.6], [2868, 22.6], [2838, 20.3], [2869, 20.6], [2857, 20.1], [2866, 19.9], [2856, 19.7], [2849, 19.0], [2839, 18.4], [2865, 18.4], [2857, 18.2], [2869, 17.7], [2863, 17.5], [2868, 17.3], [2838, 17.3], [2849, 17.3], [2848, 16.7], [2859, 16.6], [2869, 16.5], [2838, 16.0], [2847, 16.2], [2857, 16.1], [2867, 15.8], [2836, 15.1], [2850, 15.3], [2859, 15.1], [2840, 14.5], [2869, 14.7], [2847, 14.3], [2857, 14.0],
  [2843, 14.5], [2857, 14.5], [2867, 13.9]];
const pointsX: Pair[] = [[2873, 19.3], [2883, 15.0], [2907, 16.3], [2969, 16.6], [2988, 15.7], [3016, 18.7], [3016, 17.3], [2888, 14.0], [2885, 13.7], [2881, 13.5], [2883, 13.0], [2888, 12.7], [2893, 12.4], [2889, 12.0], [2886, 11.6], [2886, 11.2], [2876, 10.7], [2893, 10.9], [2885, 10.4], [2894, 10.3], [2871, 9.8], [2878, 9.9], [2888, 9.8], [2897, 9.7], [2874, 8.7], [2886, 9.0], [2893, 9.5], [2873, 8.0], [2885, 8.3], [2918, 14.1], [2923, 13.9], [2925, 13.6], [2937, 13.5], [2925, 13.2], [2949, 13.0], [2918, 12.8], [2906, 12.3], [2923, 12.4], [2940, 12.4], [2940, 12.0], [2940, 11.6], [2919, 11.9], [2909, 11.4], [2926, 11.6], [2907, 11.2], [2936, 11.1], [2936, 10.8], [2914, 10.9], [2924, 11.2], [2905, 9.9], [2912, 10.2], [2919, 10.2], [2926, 9.9], [2945, 10.3], [2950, 10.3], [2954, 9.9], [2955, 9.6], [2936, 9.3], [2943, 9.0], [2947, 9.2], [2902, 9.3], [2909, 8.9], [2919, 9.1], [2928, 8.7], [2899, 8.0], [2912, 8.0], [2926, 7.8], [2940, 8.4], [2938, 7.8], [2943, 7.2], [2954, 7.5], [2942, 6.6], [2947, 6.1], [2954, 6.0], [2962, 5.1], [2952, 5.2], [2969, 13.3], [2972, 12.9], [2983, 12.9], [2988, 12.5], [2971, 12.3], [2970, 11.7], [2985, 11.7], [3004, 13.9], [3005, 13.5], [2999, 13.4], [3021, 13.7], [3022, 13.2], [3004, 12.4], [3000, 11.8], [3007, 11.6], [3019, 11.5], [3023, 11.0], [2981, 11.2], [2974, 10.7], [2988, 10.6], [2999, 11.1], [3005, 11.2], [2964, 9.9], [2973, 9.9], [2986, 9.3], [2995, 10.1], [3014, 9.9], [3023, 9.9], [2974, 9.0], [2971, 8.4], [2964, 7.8], [2981, 8.4], [3007, 9.4], [3019, 9.2], [2988, 8.0], [3002, 8.0], [3018, 8.4], [3023, 7.6], [2974, 7.2], [2971, 6.4], [2969, 5.8], [2985, 7.0], [3002, 6.4], [3019, 6.4], [3024, 6.6], [2992, 6.0], [3012, 5.5], [2981, 5.6],
  [2888, 9.3], [2912, 9.2], [2930, 9.8], [2947, 8.4], [2961, 7.2], [2981, 7.5], [2995, 8.3], [3009, 8.7], [3016, 7.8], [2988, 9.0], [2999, 9.3], [2968, 8.7], [2947, 11.0], [2919, 11.0], [2899, 11.5], [2964, 11.0], [2999, 10.6]];
const pointsY: Pair[] = [[3029, 7.6], [3026, 3.1], [3040, 3.4], [3038, 3.0], [3040, 2.7], [3050, 1.9], [3052, 1.4]];

const chromosomes = [
  { mass: [mass1a, mass1b], points: points1 },
  { mass: [mass2], points: points2 },
  { mass: [mass3], points: points3 },
  { mass: [mass4], points: points4 },
  { mass: [mass5], points: points5 },
  { mass: [mass6], points: points6 },
  { mass: [mass7], points: points7 },
  { mass: [mass8], points: points8 },
  { mass: [mass9a, mass9b], points: points9 },
  { mass: [mass10], points: points10 },
  { mass: [mass11], points: points11 },
  { mass: [mass12], points: points12 },
  { mass: [mass13], points: points13 },
  { mass: [mass14], points: points14 },
  { mass: [mass15], points: points15 },
  { mass: [mass16a, mass16b], points: points16 },
  { mass: [mass17], points: points17 },
  { mass: [mass18], points: points18 },
  { mass: [mass19], points: points19 },
  { mass: [mass20], points: points20 },
  { mass: [mass21], points: points21 },
  { mass: [mass22], points: points22 },
  { mass: [massX], points: pointsX },
  { mass: [massY], points: pointsY },
];

const colors = ['#1a1a1a', '#999999'];
const fontFamily = '"Liberation Sans", Arial, sans-serif';
const bodyLift = 0.4; // the body tops were read a bit low

const App: React.FC = () => {
  const svgRef = useRef<SVGSVGElement>(null);

  useEffect(() => {
    if (!svgRef.current) return;
    const svg = d3.select(svgRef.current);
    svg.selectAll('*').remove();

    // the browser may give less than the full 5211px, so x follows the real width
    const pageWidth = Math.min(window.innerWidth, width);
    const xf = pageWidth / width;
    svg.attr('width', pageWidth);

    const x = d3.scaleLinear().domain([0, 3060]).range([497 * xf, 5087 * xf]);
    const y = d3.scaleLinear().domain([0, 40]).range([2137, 472]);
    const radius = 9 * Math.sqrt(xf);

    const area = d3.area<Pair>()
      .x(d => x(d[0]))
      .y0(y(0))
      .y1(d => y(d[1] + bodyLift));

    // later chromosomes are painted over earlier ones, as in the plot
    chromosomes.forEach((chrom, i) => {
      const g = svg.append('g').attr('fill', colors[i % 2]);
      chrom.mass.forEach(segment => {
        g.append('path').attr('d', area(segment));
        g.selectAll(null)
          .data(segment.slice(1, -1))
          .enter()
          .append('circle')
          .attr('cx', d => x(d[0]))
          .attr('cy', d => y(d[1] + bodyLift))
          .attr('r', radius);
      });
      g.selectAll(null)
        .data(chrom.points)
        .enter()
        .append('circle')
        .attr('cx', d => x(d[0]))
        .attr('cy', d => y(d[1]))
        .attr('r', radius);
    });

    // Axes
    const yAxis = svg.append('g')
      .attr('transform', `translate(${370 * xf},0)`)
      .call(d3.axisLeft(y).tickValues(yTicks).tickFormat(d3.format('d')).tickSize(47 * xf).tickPadding(47 * xf));
    const xAxis = svg.append('g')
      .attr('transform', 'translate(0,2138)')
      .call(d3.axisBottom(x).tickValues(tickPositions).tickFormat((_, i) => tickLabels[i]).tickSize(44).tickPadding(64));
    xAxis.select('.domain').remove();
    xAxis.append('line')
      .attr('x1', x(tickPositions[0]))
      .attr('x2', x(tickPositions[tickPositions.length - 1]))
      .attr('stroke', '#000');

    [yAxis, xAxis].forEach(axis => {
      axis.attr('font-family', fontFamily).attr('font-size', 74);
      axis.selectAll('path, line').attr('stroke', '#000').attr('stroke-width', 3.4);
      axis.selectAll('text').attr('fill', '#000');
    });

    svg.append('text')
      .attr('x', 2786 * xf)
      .attr('y', 110)
      .attr('text-anchor', 'middle')
      .attr('font-family', fontFamily)
      .attr('font-weight', 'bold')
      .attr('font-size', 86.4)
      .text('Manhattan Plot KD3 vs KD1');

    svg.append('text')
      .attr('x', 2790 * xf)
      .attr('y', 2478)
      .attr('text-anchor', 'middle')
      .attr('font-family', fontFamily)
      .attr('font-size', 74.5)
      .text('Chromosome');

    // y label, each piece placed along the rotated baseline
    const label = svg.append('g')
      .attr('transform', 'translate(82,1357) rotate(-90)')
      .attr('font-family', fontFamily)
      .attr('font-size', 74);
    label.append('text').attr('x', -3).text('\u2212');
    label.append('text').attr('x', 51).text('log');
    label.append('text').attr('x', 149).attr('y', 14).attr('font-size', 50).text('10');
    label.append('text').attr('x', 205).attr('font-size', 86).text('(');
    label.append('text').attr('x', 236).attr('font-style', 'italic').text('p');
    label.append('text').attr('x', 286).attr('font-size', 86).text(')');
  }, []);

  return (
    <svg
      ref={svgRef}
      width={width}
      height={height}
      style={{ position: 'absolute', left: 0, top: 0, background: '#fff' }}
    />
  );
};

export default App;
